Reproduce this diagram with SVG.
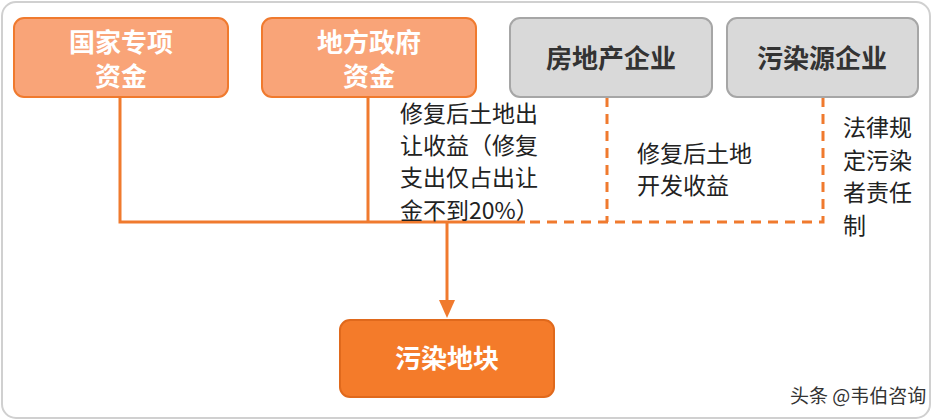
<svg xmlns="http://www.w3.org/2000/svg" width="932" height="420" viewBox="0 0 932 420">
<style>
.o rect{fill:#f9a478;stroke:#f07a2e;stroke-width:2}
.g rect{fill:#d9d9d9;stroke:#a6a6a6;stroke-width:2}
.t{font-family:"Noto Sans CJK SC","Liberation Sans",sans-serif;font-size:26px;font-weight:bold;text-anchor:middle}
.w{fill:#fff}.k{fill:#333}
.l{font-family:"Noto Sans CJK SC","Liberation Sans",sans-serif;font-size:23px;fill:#222}
.s{stroke:#f07a2e;stroke-width:3;fill:none}
.d{stroke:#f07a2e;stroke-width:3;fill:none;stroke-dasharray:10 7}
</style>
<rect x="2" y="2" width="928" height="416" rx="14" fill="#fff" stroke="#d0d0d0" stroke-width="2"/>
<g id="connectors">
<path class="s" d="M120,97 V222 H525 M368,97 V222"/>
<path class="d" d="M530,222 H823 V97 M607,97 V222"/>
<path class="s" d="M447,222 V302"/>
<path d="M439,300 H455 L447,318 Z" fill="#f07a2e"/>
</g>
<g id="n1" class="o"><rect x="14" y="18" width="214" height="79" rx="10"/><text class="t w" x="121" y="52">国家专项</text><text class="t w" x="121" y="86">资金</text></g>
<g id="n2" class="o"><rect x="262" y="18" width="214" height="79" rx="10"/><text class="t w" x="369" y="52">地方政府</text><text class="t w" x="369" y="86">资金</text></g>
<g id="n3" class="g"><rect x="510" y="18" width="202" height="79" rx="10"/><text class="t k" x="611" y="68">房地产企业</text></g>
<g id="n4" class="g"><rect x="727" y="18" width="191" height="79" rx="10"/><text class="t k" x="822" y="68">污染源企业</text></g>
<g id="n5"><rect x="340" y="320" width="214" height="77" rx="10" fill="#f47b2a" stroke="#e0691c" stroke-width="2"/><text class="t w" x="447" y="368">污染地块</text></g>
<g id="labels">
<text class="l" x="400" y="122">修复后土地出</text>
<text class="l" x="400" y="154">让收益（修复</text>
<text class="l" x="400" y="186">支出仅占出让</text>
<text class="l" x="400" y="219">金不到20%）</text>
<text class="l" x="637" y="162">修复后土地</text>
<text class="l" x="637" y="194">开发收益</text>
<text class="l" x="843" y="136">法律规</text>
<text class="l" x="843" y="169">定污染</text>
<text class="l" x="843" y="201">者责任</text>
<text class="l" x="843" y="234">制</text>
</g>
<text x="790" y="403" font-family="Noto Sans CJK SC,sans-serif" font-size="19" fill="#333">头条 @韦伯咨询</text>
</svg>
